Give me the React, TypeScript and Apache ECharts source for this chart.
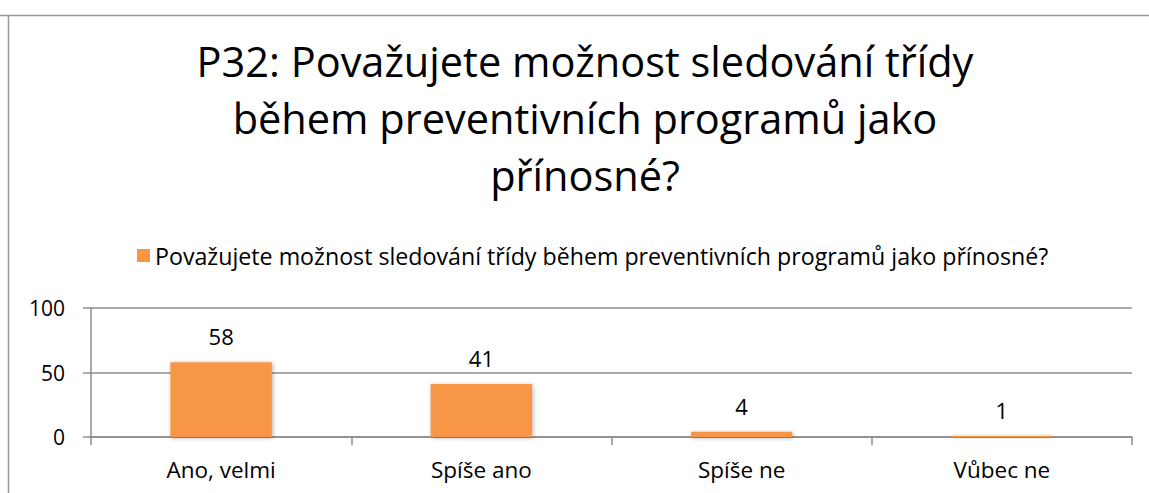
import React, { useEffect, useRef } from "react";
import * as echarts from "echarts";

const titleText = "P32: Považujete možnost sledování třídy\nběhem preventivních programů jako\npřínosné?";
const seriesName = "Považujete možnost sledování třídy během preventivních programů jako přínosné?";
const categories = ["Ano, velmi", "Spíše ano", "Spíše ne", "Vůbec ne"];
const values = [58, 41, 4, 1];
const yTicks = [0, 50, 100];

const FONT = "'Open Sans', Lato, sans-serif";

export default function App() {
  const ref = useRef<HTMLDivElement>(null);
  useEffect(() => {
    if (!ref.current) return;
    const chart = echarts.init(ref.current, null, { renderer: "svg" });
    chart.setOption({
      animation: false,
      backgroundColor: "#ffffff",
      textStyle: { fontFamily: FONT },
      legend: {
        top: 239,
        left: 132,
        icon: "rect",
        itemWidth: 13,
        itemHeight: 13,
        itemGap: 8,
        textStyle: { fontSize: 23.2, color: "#000", fontFamily: FONT },
        data: [seriesName],
      },
      graphic: [
        { type: "line", shape: { x1: 0, y1: 15.5, x2: 1149, y2: 15.5 }, style: { stroke: "#999", lineWidth: 1.5 } },
        { type: "line", shape: { x1: 8.5, y1: 15, x2: 8.5, y2: 493 }, style: { stroke: "#999", lineWidth: 1.5 } },
        {
          type: "text",
          x: 585,
          y: 32,
          style: {
            text: titleText,
            textAlign: "center",
            textVerticalAlign: "top",
            fontSize: 41.5,
            lineHeight: 57,
            fontFamily: FONT,
            fill: "#000",
          },
        },
      ],
      grid: { left: 91, right: 17, top: 308, bottom: 56, containLabel: false },
      xAxis: {
        type: "category",
        data: categories,
        boundaryGap: true,
        axisLine: { show: true, lineStyle: { color: "#8c8c8c", width: 1.5 } },
        axisTick: { show: true, length: 8, lineStyle: { color: "#8c8c8c", width: 1.5 } },
        axisLabel: { fontSize: 22.5, color: "#000", margin: 21, fontFamily: FONT },
      },
      yAxis: {
        type: "value",
        min: yTicks[0],
        max: yTicks[yTicks.length - 1],
        interval: 50,
        axisLine: { show: true, lineStyle: { color: "#8c8c8c", width: 1.5 } },
        axisTick: { show: true, length: 8, lineStyle: { color: "#8c8c8c", width: 1.5 } },
        axisLabel: { fontSize: 21, color: "#000", margin: 26, fontFamily: FONT },
        splitLine: { show: true, lineStyle: { color: "#8c8c8c", width: 1.5 } },
      },
      series: [
        {
          name: seriesName,
          type: "bar",
          data: values,
          barWidth: "39%",
          itemStyle: {
            color: "#F79646",
            shadowBlur: 4,
            shadowColor: "rgba(0,0,0,0.3)",
            shadowOffsetX: 1,
            shadowOffsetY: 1,
          },
          label: {
            show: true,
            position: "top",
            distance: 15,
            fontSize: 22,
            color: "#000",
            fontFamily: FONT,
          },
        },
      ],
    });
    return () => chart.dispose();
  }, []);
  return <div ref={ref} style={{ position: "fixed", left: 0, top: 0, width: 1149, height: 493 }} />;
}
